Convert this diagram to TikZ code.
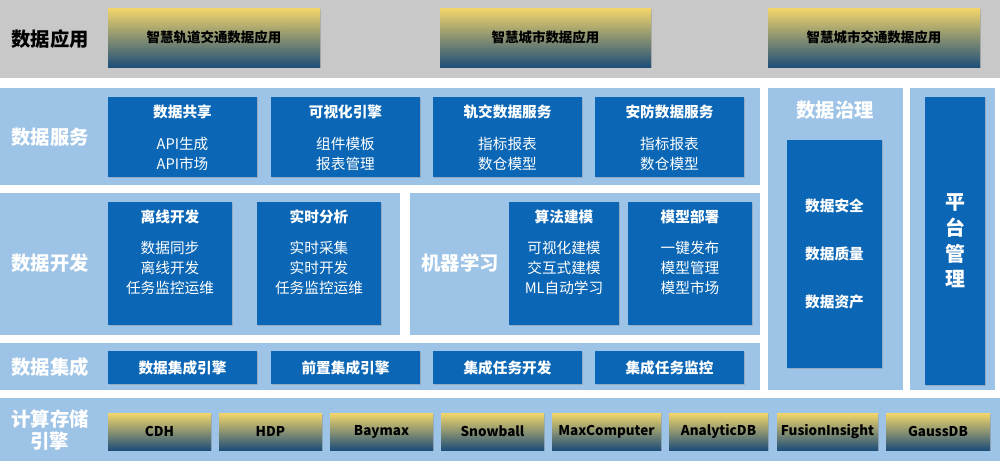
\documentclass[tikz,border=0pt]{standalone}
\usepackage{fontspec}
\setmainfont{Noto Sans CJK SC}
\usetikzlibrary{fit, positioning, shadows}

\definecolor{bandgray}{HTML}{C8C8C8}
\definecolor{bandblue}{HTML}{9DC3E6}
\definecolor{boxblue}{HTML}{0B67B5}
\definecolor{goldy}{HTML}{F3D66A}
\definecolor{navyb}{HTML}{1F4E79}

\tikzset{
  band/.style={fill=bandblue, draw=none, inner sep=0pt},
  box/.style={fill=boxblue, draw=none, inner sep=0pt, text=white,
    font=\fontsize{12.5}{15}\selectfont\bfseries,
    drop shadow={opacity=0.35, shadow xshift=1.2pt, shadow yshift=-1.2pt}},
  gold/.style={top color=goldy, middle color=goldy!85!navyb, bottom color=navyb,
    draw=none, inner sep=0pt, text=black,
    font=\fontsize{11.5}{14}\selectfont\bfseries,
    drop shadow={opacity=0.35, shadow xshift=1.2pt, shadow yshift=-1.2pt}},
  headlbl/.style={text=white, font=\fontsize{16.5}{20}\selectfont\bfseries, align=center},
  boxtitle/.style={text=white, font=\fontsize{12.5}{15}\selectfont\bfseries},
  items/.style={text=white, font=\fontsize{12.5}{17}\selectfont, align=center},
}

\begin{document}
\begin{tikzpicture}[x=0.3mm, y=-0.3mm]
    \useasboundingbox[fill=white] (0,0) rectangle (1000,461);

    % bands
    \node[band, fill=bandgray, fit={(0,0) (1000,78)}] (bapp) {};
    \node[band, fit={(0,88) (760,185)}] (bsvc) {};
    \node[band, fit={(0,193) (400,335)}] (bdev) {};
    \node[band, fit={(410,193) (760,335)}] (bml) {};
    \node[band, fit={(0,343) (760,390)}] (bint) {};
    \node[band, fit={(768,88) (903,390)}] (bgov) {};
    \node[band, fit={(910,88) (995,390)}] (bplat) {};
    \node[band, fit={(0,398) (1000,461)}] (bcomp) {};

    % row labels
    \node[headlbl, text=black] (lapp) at (50,39) {数据应用};
    \node[headlbl] (lsvc) at (50,137) {数据服务};
    \node[headlbl] (ldev) at (50,263) {数据开发};
    \node[headlbl] (lml) at (460,263) {机器学习};
    \node[headlbl] (lint) at (50,367) {数据集成};
    \node[headlbl, font=\fontsize{16.5}{19}\selectfont\bfseries] (lcomp) at (50,430) {计算存储\\引擎};
    \node[headlbl] (lgov) at (835,110) {数据治理};

    % applications
    \node[gold, fit={(108,8) (320,67)}] (app1) {};
    \node[gold, fit={(440,8) (651,67)}] (app2) {};
    \node[gold, fit={(768,8) (980,67)}] (app3) {};
    \node[font=\fontsize{11.5}{14}\selectfont\bfseries] at (app1) {智慧轨道交通数据应用};
    \node[font=\fontsize{11.5}{14}\selectfont\bfseries] at (app2) {智慧城市数据应用};
    \node[font=\fontsize{11.5}{14}\selectfont\bfseries] at (app3) {智慧城市交通数据应用};

    % data services
    \node[box, fit={(108,97) (257,177)}] (share) {};
    \node[box, fit={(271,97) (420,177)}] (visual) {};
    \node[box, fit={(433,97) (582,177)}] (railsvc) {};
    \node[box, fit={(595,97) (744,177)}] (secsvc) {};
    \node[boxtitle, below=3pt of share.north] (tshare) {数据共享};
    \node[items, below=9pt of tshare] {API生成\\API市场};
    \node[boxtitle, below=3pt of visual.north] (tvisual) {可视化引擎};
    \node[items, below=9pt of tvisual] {组件模板\\报表管理};
    \node[boxtitle, below=3pt of railsvc.north] (trail) {轨交数据服务};
    \node[items, below=9pt of trail] {指标报表\\数仓模型};
    \node[boxtitle, below=3pt of secsvc.north] (tsec) {安防数据服务};
    \node[items, below=9pt of tsec] {指标报表\\数仓模型};

    % data development
    \node[box, fit={(108,202) (232,325)}] (offline) {};
    \node[box, fit={(257,202) (381,325)}] (realtime) {};
    \node[box, fit={(509,202) (619,325)}] (algo) {};
    \node[box, fit={(628,202) (752,325)}] (deploy) {};
    \node[boxtitle, below=3pt of offline.north] (toff) {离线开发};
    \node[items, below=8pt of toff] {数据同步\\离线开发\\任务监控运维};
    \node[boxtitle, below=3pt of realtime.north] (treal) {实时分析};
    \node[items, below=8pt of treal] {实时采集\\实时开发\\任务监控运维};
    \node[boxtitle, below=3pt of algo.north] (talgo) {算法建模};
    \node[items, below=8pt of talgo] {可视化建模\\交互式建模\\ML自动学习};
    \node[boxtitle, below=3pt of deploy.north] (tdep) {模型部署};
    \node[items, below=8pt of tdep] {一键发布\\模型管理\\模型市场};

    % integration
    \node[box, fit={(108,351) (257,384)}] (int1) {};
    \node[box, fit={(271,351) (420,384)}] (int2) {};
    \node[box, fit={(433,351) (582,384)}] (int3) {};
    \node[box, fit={(595,351) (744,384)}] (int4) {};
    \node[boxtitle] at (int1) {数据集成引擎};
    \node[boxtitle] at (int2) {前置集成引擎};
    \node[boxtitle] at (int3) {集成任务开发};
    \node[boxtitle] at (int4) {集成任务监控};

    % governance and platform
    \node[box, fit={(787,140) (882,368)}] (gov) {};
    \node[items, font=\fontsize{12.5}{15}\selectfont\bfseries] at (gov) {数据安全\\[26pt]数据质量\\[26pt]数据资产};
    \node[box, fit={(925,97) (985,385)}] (plat) {};
    \node[headlbl, font=\fontsize{17}{22}\selectfont\bfseries] at (plat) {平\\台\\管\\理};

    % compute and storage engines
    \foreach \nm/\xa/\xb/\txt in {cdh/108/211/CDH, hdp/219/322/HDP, baymax/330/433/Baymax,
        snowball/441/544/Snowball, maxc/552/661/MaxComputer, adb/669/768/AnalyticDB,
        fusion/777/878/FusionInsight, gauss/886/990/GaussDB}
    {
      \node[gold, fit={(\xa,413) (\xb,450)}] (\nm) {};
      \node[font=\fontsize{11.5}{14}\selectfont\bfseries] at (\nm) {\txt};
    }
\end{tikzpicture}
\end{document}
